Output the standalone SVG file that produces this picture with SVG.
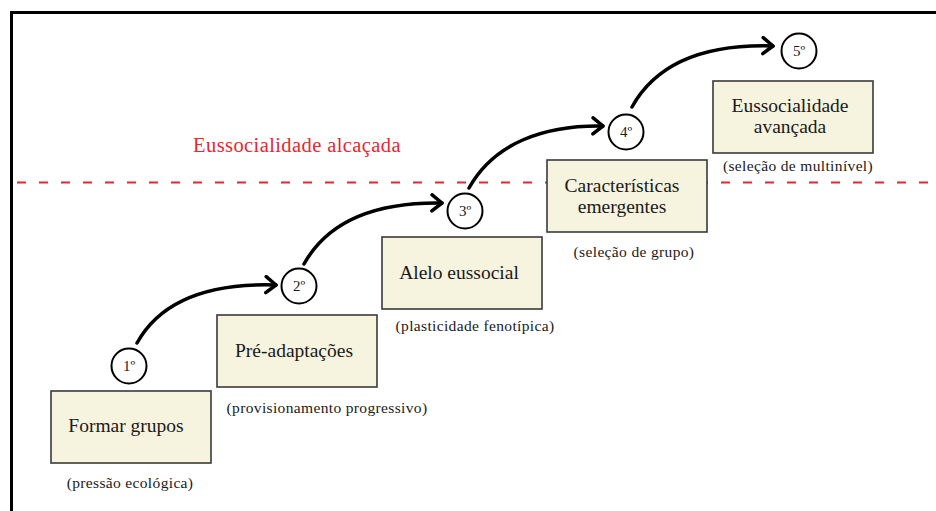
<svg xmlns="http://www.w3.org/2000/svg" width="936" height="511" viewBox="0 0 936 511">
<style>
.box{fill:#f6f3df;stroke:#3a3a3a;stroke-width:1.6}
.lbl{font-family:"Liberation Serif","DejaVu Serif",serif;font-size:19.5px;fill:#1a1a1a;text-anchor:middle}
.sub{font-family:"Liberation Serif","DejaVu Serif",serif;font-size:15.5px;letter-spacing:0.35px;fill:#1a1a1a;text-anchor:middle}
.num{font-family:"Liberation Serif","DejaVu Serif",serif;font-size:15px;fill:#1a1a1a;text-anchor:middle}
.circ{fill:#fff;stroke:#000;stroke-width:2}
.arr{fill:none;stroke:#000;stroke-width:3.5;stroke-linecap:round;marker-end:url(#chev)}
</style>
<defs>
<marker id="chev" markerUnits="userSpaceOnUse" viewBox="-12 -10 14 20" refX="0" refY="0" markerWidth="14" markerHeight="20" orient="auto">
<path d="M-10,-8 L0,0 L-10,8" fill="none" stroke="#000" stroke-width="3.5" stroke-linecap="round" stroke-linejoin="round"/>
</marker>
</defs>
<rect width="936" height="511" fill="#fff"/>
<g id="frame">
<path d="M11.5,511 V12.5 H936" fill="none" stroke="#000" stroke-width="3"/>
</g>
<g id="threshold">
<line x1="17" y1="182.5" x2="936" y2="182.5" stroke="#e8262f" stroke-width="2" stroke-dasharray="9 13"/>
<text x="297" y="152" font-family="Liberation Serif, DejaVu Serif, serif" font-size="20.5" letter-spacing="0.4" fill="#e8262f" text-anchor="middle">Eussocialidade alcaçada</text>
</g>
<g id="connectors">
<path class="arr" d="M137,343 C162,298 212,283 276,285"/>
<path class="arr" d="M304,264 C329,219 379,202 442,203"/>
<path class="arr" d="M469,188 C494,143 544,125 603,126"/>
<path class="arr" d="M632,107 C657,62 707,44 773,46"/>
</g>
<g id="step1">
<rect class="box" x="51" y="391" width="160" height="72"/>
<text class="lbl" x="126" y="432">Formar grupos</text>
<text class="sub" x="130" y="488">(pressão ecológica)</text>
<circle class="circ" cx="129" cy="366" r="17.5"/>
<text class="num" x="129" y="371">1º</text>
</g>
<g id="step2">
<rect class="box" x="217" y="315" width="160" height="72"/>
<text class="lbl" x="294" y="357">Pré-adaptações</text>
<text class="sub" x="327" y="413">(provisionamento progressivo)</text>
<circle class="circ" cx="299" cy="286" r="17.5"/>
<text class="num" x="299" y="291">2º</text>
</g>
<g id="step3">
<rect class="box" x="382" y="237" width="160" height="72"/>
<text class="lbl" x="459" y="279">Alelo eussocial</text>
<text class="sub" x="475" y="331">(plasticidade fenotípica)</text>
<circle class="circ" cx="465" cy="211" r="17.5"/>
<text class="num" x="465" y="216">3º</text>
</g>
<g id="step4">
<rect class="box" x="547" y="160" width="160" height="72"/>
<text class="lbl" x="622" y="192">Características</text>
<text class="lbl" x="622" y="213">emergentes</text>
<text class="sub" x="634" y="257">(seleção de grupo)</text>
<circle class="circ" cx="626" cy="132" r="17.5"/>
<text class="num" x="626" y="137">4º</text>
</g>
<g id="step5">
<rect class="box" x="713" y="81" width="160" height="72"/>
<text class="lbl" x="790" y="112">Eussocialidade</text>
<text class="lbl" x="790" y="133">avançada</text>
<text class="sub" x="798" y="171">(seleção de multinível)</text>
<circle class="circ" cx="799" cy="51" r="17.5"/>
<text class="num" x="799" y="56">5º</text>
</g>
</svg>
